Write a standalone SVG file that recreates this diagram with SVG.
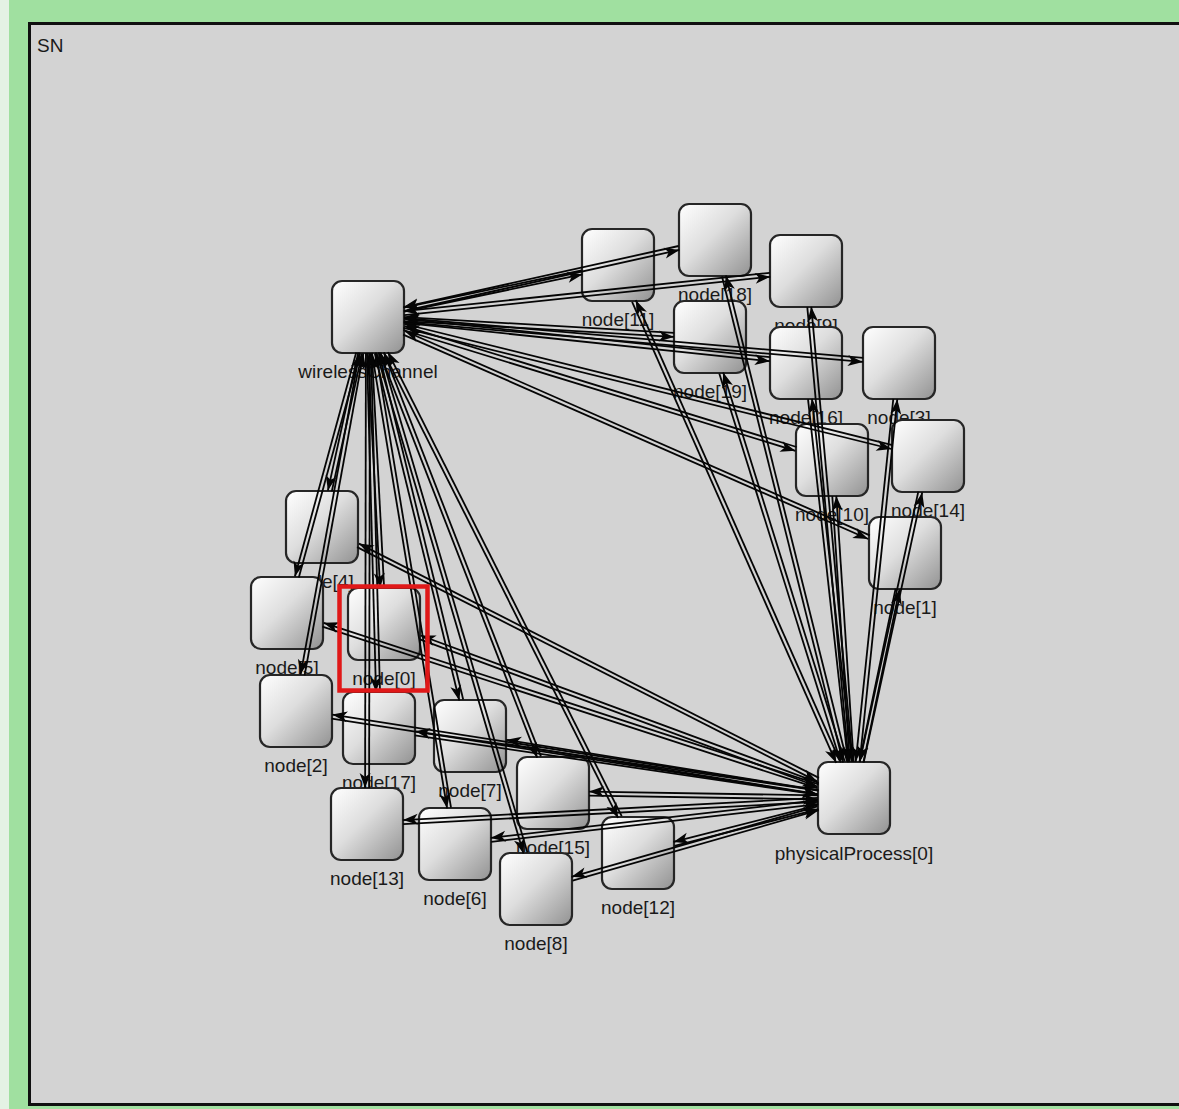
<svg xmlns="http://www.w3.org/2000/svg" width="1179" height="1109" viewBox="0 0 1179 1109">
  <style>
    .box { fill: url(#boxfill); stroke: #262626; stroke-width: 2.2; }
    .lbl { font-family: "Liberation Sans", Arial, sans-serif; font-size: 19px; fill: #1a1a1a; text-anchor: middle; }
    .c { stroke: #050505; stroke-width: 1.8; fill: none; marker-end: url(#arr); }
  </style>
  <defs>
    <linearGradient id="boxfill" x1="0" y1="0" x2="1" y2="1">
      <stop offset="0" stop-color="#ffffff"/>
      <stop offset="0.45" stop-color="#dedede"/>
      <stop offset="1" stop-color="#929292"/>
    </linearGradient>
    <marker id="arr" markerUnits="userSpaceOnUse" markerWidth="18" markerHeight="14" viewBox="-16 -7 18 14" refX="0" refY="0" orient="auto">
      <path d="M0,0 L-15,-5.5 L-11,0 L-15,5.5 Z" fill="#050505"/>
    </marker>
  </defs>

  <!-- canvas background and compound module frame -->
  <rect x="0" y="0" width="1179" height="1109" fill="#a0e0a0"/>
  <rect x="0" y="0" width="9" height="1109" fill="#e4f2e4"/>
  <rect x="29.5" y="23.5" width="1160" height="1081" fill="#d3d3d3" stroke="#101010" stroke-width="3"/>
  <text class="lbl" x="37" y="52" style="text-anchor:start">SN</text>

  <!-- submodules, drawn top to bottom -->
  <g id="node18"><rect class="box" x="679" y="204" width="72" height="72" rx="10"/><text class="lbl" x="715" y="301">node[18]</text></g>
  <g id="node11"><rect class="box" x="582" y="229" width="72" height="72" rx="10"/><text class="lbl" x="618" y="326">node[11]</text></g>
  <g id="node9"><rect class="box" x="770" y="235" width="72" height="72" rx="10"/><text class="lbl" x="806" y="332">node[9]</text></g>
  <g id="wirelessChannel"><rect class="box" x="332" y="281" width="72" height="72" rx="10"/><text class="lbl" x="368" y="378">wirelessChannel</text></g>
  <g id="node19"><rect class="box" x="674" y="301" width="72" height="72" rx="10"/><text class="lbl" x="710" y="398">node[19]</text></g>
  <g id="node3"><rect class="box" x="863" y="327" width="72" height="72" rx="10"/><text class="lbl" x="899" y="424">node[3]</text></g>
  <g id="node16"><rect class="box" x="770" y="327" width="72" height="72" rx="10"/><text class="lbl" x="806" y="424">node[16]</text></g>
  <g id="node14"><rect class="box" x="892" y="420" width="72" height="72" rx="10"/><text class="lbl" x="928" y="517">node[14]</text></g>
  <g id="node10"><rect class="box" x="796" y="424" width="72" height="72" rx="10"/><text class="lbl" x="832" y="521">node[10]</text></g>
  <g id="node4"><rect class="box" x="286" y="491" width="72" height="72" rx="10"/><text class="lbl" x="322" y="588">node[4]</text></g>
  <g id="node1"><rect class="box" x="869" y="517" width="72" height="72" rx="10"/><text class="lbl" x="905" y="614">node[1]</text></g>
  <g id="node5"><rect class="box" x="251" y="577" width="72" height="72" rx="10"/><text class="lbl" x="287" y="674">node[5]</text></g>
  <g id="node0"><rect class="box" x="348" y="588" width="72" height="72" rx="10"/><text class="lbl" x="384" y="685">node[0]</text></g>
  <g id="node2"><rect class="box" x="260" y="675" width="72" height="72" rx="10"/><text class="lbl" x="296" y="772">node[2]</text></g>
  <g id="node17"><rect class="box" x="343" y="692" width="72" height="72" rx="10"/><text class="lbl" x="379" y="789">node[17]</text></g>
  <g id="node7"><rect class="box" x="434" y="700" width="72" height="72" rx="10"/><text class="lbl" x="470" y="797">node[7]</text></g>
  <g id="node15"><rect class="box" x="517" y="757" width="72" height="72" rx="10"/><text class="lbl" x="553" y="854">node[15]</text></g>
  <g id="physicalProcess0"><rect class="box" x="818" y="762" width="72" height="72" rx="10"/><text class="lbl" x="854" y="860">physicalProcess[0]</text></g>
  <g id="node13"><rect class="box" x="331" y="788" width="72" height="72" rx="10"/><text class="lbl" x="367" y="885">node[13]</text></g>
  <g id="node6"><rect class="box" x="419" y="808" width="72" height="72" rx="10"/><text class="lbl" x="455" y="905">node[6]</text></g>
  <g id="node12"><rect class="box" x="602" y="817" width="72" height="72" rx="10"/><text class="lbl" x="638" y="914">node[12]</text></g>
  <g id="node8"><rect class="box" x="500" y="853" width="72" height="72" rx="10"/><text class="lbl" x="536" y="950">node[8]</text></g>

  <!-- connections: wirelessChannel <-> node[i], physicalProcess[0] <-> node[i] -->
  <g id="connections">
    <line class="c" x1="367.9" y1="353.1" x2="380.1" y2="588.1"/>
    <line class="c" x1="384.1" y1="587.9" x2="371.9" y2="352.9"/>
    <line class="c" x1="403.2" y1="334.6" x2="868.2" y2="539.0"/>
    <line class="c" x1="869.8" y1="535.4" x2="404.8" y2="331.0"/>
    <line class="c" x1="359.5" y1="352.6" x2="300.6" y2="674.6"/>
    <line class="c" x1="304.6" y1="675.4" x2="363.4" y2="353.4"/>
    <line class="c" x1="403.8" y1="322.1" x2="862.8" y2="361.9"/>
    <line class="c" x1="863.2" y1="357.9" x2="404.2" y2="318.1"/>
    <line class="c" x1="358.2" y1="352.6" x2="327.9" y2="490.6"/>
    <line class="c" x1="331.8" y1="491.4" x2="362.1" y2="353.4"/>
    <line class="c" x1="356.2" y1="352.5" x2="294.9" y2="576.5"/>
    <line class="c" x1="298.8" y1="577.5" x2="360.1" y2="353.5"/>
    <line class="c" x1="372.0" y1="353.3" x2="447.1" y2="808.3"/>
    <line class="c" x1="451.0" y1="807.7" x2="375.9" y2="352.7"/>
    <line class="c" x1="374.8" y1="353.5" x2="459.3" y2="700.5"/>
    <line class="c" x1="463.2" y1="699.5" x2="378.7" y2="352.5"/>
    <line class="c" x1="376.7" y1="353.6" x2="523.5" y2="853.6"/>
    <line class="c" x1="527.4" y1="852.4" x2="380.5" y2="352.4"/>
    <line class="c" x1="404.2" y1="315.2" x2="770.2" y2="276.8"/>
    <line class="c" x1="769.8" y1="272.8" x2="403.8" y2="311.2"/>
    <line class="c" x1="403.4" y1="330.0" x2="795.4" y2="450.8"/>
    <line class="c" x1="796.6" y1="447.0" x2="404.6" y2="326.2"/>
    <line class="c" x1="404.4" y1="311.5" x2="582.4" y2="274.4"/>
    <line class="c" x1="581.6" y1="270.5" x2="403.6" y2="307.6"/>
    <line class="c" x1="384.3" y1="353.9" x2="618.1" y2="817.9"/>
    <line class="c" x1="621.7" y1="816.1" x2="387.9" y2="352.1"/>
    <line class="c" x1="365.9" y1="353.0" x2="365.1" y2="788.0"/>
    <line class="c" x1="369.1" y1="788.0" x2="369.9" y2="353.0"/>
    <line class="c" x1="403.5" y1="327.9" x2="891.5" y2="449.0"/>
    <line class="c" x1="892.5" y1="445.1" x2="404.5" y2="324.0"/>
    <line class="c" x1="380.1" y1="353.7" x2="537.2" y2="757.7"/>
    <line class="c" x1="540.9" y1="756.3" x2="383.9" y2="352.3"/>
    <line class="c" x1="403.8" y1="322.8" x2="769.8" y2="361.2"/>
    <line class="c" x1="770.2" y1="357.2" x2="404.2" y2="318.8"/>
    <line class="c" x1="367.0" y1="353.1" x2="376.0" y2="692.1"/>
    <line class="c" x1="380.0" y1="691.9" x2="371.0" y2="352.9"/>
    <line class="c" x1="404.4" y1="311.0" x2="679.4" y2="249.9"/>
    <line class="c" x1="678.6" y1="246.0" x2="403.6" y2="307.1"/>
    <line class="c" x1="403.9" y1="321.1" x2="673.9" y2="336.9"/>
    <line class="c" x1="674.1" y1="332.9" x2="404.1" y2="317.1"/>

    <line class="c" x1="818.7" y1="782.8" x2="420.7" y2="635.5"/>
    <line class="c" x1="419.3" y1="639.2" x2="817.3" y2="786.5"/>
    <line class="c" x1="863.4" y1="762.4" x2="899.5" y2="589.4"/>
    <line class="c" x1="895.6" y1="588.6" x2="859.5" y2="761.6"/>
    <line class="c" x1="818.3" y1="790.4" x2="332.3" y2="714.6"/>
    <line class="c" x1="331.7" y1="718.6" x2="817.7" y2="794.4"/>
    <line class="c" x1="859.7" y1="762.2" x2="897.3" y2="399.2"/>
    <line class="c" x1="893.3" y1="398.8" x2="855.7" y2="761.8"/>
    <line class="c" x1="818.9" y1="777.9" x2="358.9" y2="543.6"/>
    <line class="c" x1="357.1" y1="547.1" x2="817.1" y2="781.4"/>
    <line class="c" x1="818.6" y1="784.3" x2="323.6" y2="622.8"/>
    <line class="c" x1="322.4" y1="626.7" x2="817.4" y2="788.2"/>
    <line class="c" x1="817.8" y1="800.2" x2="490.8" y2="837.9"/>
    <line class="c" x1="491.2" y1="841.8" x2="818.2" y2="804.1"/>
    <line class="c" x1="818.3" y1="790.2" x2="506.3" y2="739.8"/>
    <line class="c" x1="505.7" y1="743.8" x2="817.7" y2="794.2"/>
    <line class="c" x1="817.5" y1="806.4" x2="571.5" y2="876.8"/>
    <line class="c" x1="572.6" y1="880.6" x2="818.6" y2="810.2"/>
    <line class="c" x1="852.7" y1="761.8" x2="811.3" y2="306.8"/>
    <line class="c" x1="807.3" y1="307.2" x2="848.7" y2="762.2"/>
    <line class="c" x1="853.7" y1="761.9" x2="836.3" y2="495.9"/>
    <line class="c" x1="832.3" y1="496.1" x2="849.7" y2="762.1"/>
    <line class="c" x1="839.9" y1="761.2" x2="635.8" y2="300.2"/>
    <line class="c" x1="632.1" y1="301.8" x2="836.2" y2="762.8"/>
    <line class="c" x1="817.5" y1="805.2" x2="673.5" y2="841.9"/>
    <line class="c" x1="674.5" y1="845.8" x2="818.5" y2="809.1"/>
    <line class="c" x1="817.9" y1="797.9" x2="402.9" y2="820.1"/>
    <line class="c" x1="403.1" y1="824.1" x2="818.1" y2="801.9"/>
    <line class="c" x1="863.7" y1="762.4" x2="922.2" y2="492.4"/>
    <line class="c" x1="918.3" y1="491.6" x2="859.8" y2="761.6"/>
    <line class="c" x1="818.0" y1="795.4" x2="589.0" y2="791.6"/>
    <line class="c" x1="589.0" y1="795.6" x2="818.0" y2="799.4"/>
    <line class="c" x1="852.0" y1="761.8" x2="812.0" y2="398.8"/>
    <line class="c" x1="808.0" y1="399.2" x2="848.0" y2="762.2"/>
    <line class="c" x1="818.3" y1="790.7" x2="415.3" y2="731.3"/>
    <line class="c" x1="414.7" y1="735.3" x2="817.7" y2="794.7"/>
    <line class="c" x1="847.0" y1="761.5" x2="725.9" y2="275.5"/>
    <line class="c" x1="722.0" y1="276.5" x2="843.1" y2="762.5"/>
    <line class="c" x1="844.7" y1="761.4" x2="723.2" y2="372.4"/>
    <line class="c" x1="719.3" y1="373.6" x2="840.8" y2="762.6"/>
  </g>

  <!-- selection highlight -->
  <rect x="339.5" y="586.5" width="88" height="104" fill="none" stroke="#e01818" stroke-width="4.5"/>
</svg>
